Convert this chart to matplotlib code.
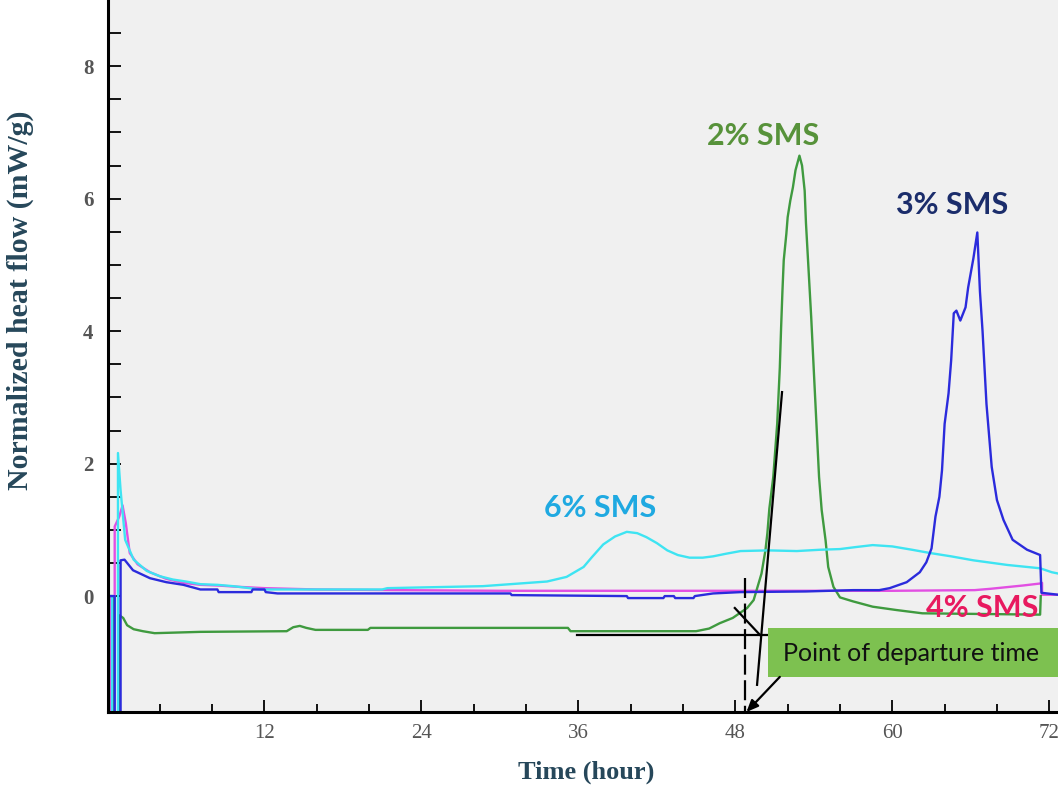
import matplotlib
matplotlib.use("Agg")
import matplotlib.pyplot as plt
from matplotlib.patches import Rectangle

# ---- isothermal calorimetry curves (time in hours, heat flow in mW/g) ----
t_6 = [0, 0.35, 0.35, 0.8, 0.8, 1.0, 1.35, 2.0, 3.0, 4.0, 5.0, 6.0, 7.1, 8.4, 9.6,
       11.7, 21.0, 21.4, 28.7, 31.5, 33.6, 35.1, 36.4, 37.0, 37.9, 38.8, 39.7, 40.5,
       41.2, 42.0, 42.8, 43.6, 44.5, 45.5, 46.3, 47.3, 48.4, 50.5, 52.7, 54.5, 56.0,
       57.2, 58.5, 60.0, 61.5, 62.9, 64.5, 66.2, 68.8, 71.3, 72.2, 72.7]
v_6 = [0, 0, -2, -2, 2.16, 1.6, 0.85, 0.55, 0.38, 0.3, 0.25, 0.22, 0.18, 0.17, 0.15,
       0.1, 0.1, 0.12, 0.15, 0.19, 0.22, 0.29, 0.44, 0.58, 0.78, 0.9, 0.97, 0.95,
       0.89, 0.8, 0.69, 0.62, 0.58, 0.58, 0.6, 0.64, 0.68, 0.69, 0.68, 0.7, 0.71,
       0.74, 0.77, 0.75, 0.7, 0.65, 0.6, 0.54, 0.47, 0.42, 0.36, 0.34]

t_4 = [0, 0.2, 0.2, 0.55, 0.55, 0.9, 1.15, 1.4, 1.7, 2.3, 3.25, 4.5, 5.8, 7.1, 8.4,
       10, 12, 16, 22, 30, 40, 50, 60, 66.3, 67.5, 68.5, 70, 71.3, 71.45, 71.45, 72.7]
v_4 = [0, 0, -2, -2, 1.05, 1.2, 1.37, 1.1, 0.65, 0.48, 0.36, 0.26, 0.2, 0.17, 0.16,
       0.14, 0.12, 0.1, 0.09, 0.08, 0.08, 0.08, 0.08, 0.09, 0.11, 0.13, 0.16, 0.19,
       0.2, 0.02, 0.02]

t_3 = [0, 0.55, 0.55, 1.0, 1.0, 1.3, 1.95, 3.25, 4.5, 5.8, 7.1, 8.4, 8.5, 11.0, 11.1,
       12.0, 12.1, 13.0, 30.8, 30.9, 39.7, 39.8, 42.5, 42.6, 43.3, 43.4, 44.8, 44.9,
       46.3, 48.4, 53.4, 57.0, 59.0, 59.8, 61.1, 62.1, 62.6, 63.0, 63.3, 63.6, 63.8,
       64.0, 64.3, 64.5, 64.7, 64.9, 65.2, 65.6, 65.8, 66.2, 66.5, 66.7, 66.9, 67.2,
       67.6, 68.0, 68.5, 69.2, 70.3, 71.3, 71.4, 72.7]
v_3 = [0, 0, -2, -2, 0.54, 0.55, 0.39, 0.27, 0.21, 0.17, 0.1, 0.1, 0.06, 0.06, 0.1,
       0.1, 0.06, 0.04, 0.04, 0.015, 0.0, -0.03, -0.03, 0.0, 0.0, -0.03, -0.03, 0.0,
       0.04, 0.06, 0.07, 0.09, 0.09, 0.12, 0.21, 0.36, 0.51, 0.72, 1.2, 1.5, 1.9,
       2.6, 3.06, 3.56, 4.27, 4.31, 4.16, 4.36, 4.66, 5.1, 5.49, 4.6, 4.0, 2.9,
       1.95, 1.45, 1.15, 0.85, 0.7, 0.62, 0.05, 0.02]

t_2 = [0, 0.4, 0.4, 0.9, 0.9, 1.2, 1.5, 2.0, 2.7, 3.6, 7.1, 13.7, 14.2, 14.7, 15.2,
       15.9, 19.9, 20.1, 35.2, 35.4, 45.0, 46.0, 46.8, 47.8, 48.9, 49.4, 49.7, 50.0,
       50.3, 50.45, 50.6, 50.9, 51.2, 51.4, 51.5, 51.6, 51.7, 51.9, 52.0, 52.2, 52.4,
       52.6, 52.9, 53.1, 53.3, 53.4, 53.6, 53.8, 54.0, 54.2, 54.4, 54.6, 54.9, 55.1,
       55.5, 56.0, 57.0, 58.5, 60.3, 62.3, 71.3, 71.35]
v_2 = [0, 0, -2, -2, -0.29, -0.33, -0.44, -0.5, -0.53, -0.56, -0.54, -0.53, -0.47,
       -0.45, -0.48, -0.51, -0.51, -0.48, -0.48, -0.53, -0.53, -0.49, -0.41, -0.33,
       -0.18, -0.06, 0.14, 0.34, 0.69, 0.95, 1.32, 1.8, 2.6, 3.45, 4.06, 4.6, 5.07,
       5.47, 5.72, 5.97, 6.17, 6.43, 6.65, 6.5, 6.12, 5.63, 4.92, 4.21, 3.4, 2.6,
       1.8, 1.3, 0.84, 0.44, 0.14, -0.02, -0.08, -0.16, -0.21, -0.26, -0.28, 0.0]

series_labels = ["6% SMS", "4% SMS", "3% SMS", "2% SMS"]
x_ticks = [12, 24, 36, 48, 60, 72]
y_ticks = [0, 2, 4, 6, 8]

# ---- figure ----
W, H = 1058, 788
fig = plt.figure(figsize=(W / 100, H / 100), dpi=100)
ax = fig.add_axes([107.5 / W, 76 / H, (W - 107.5) / W, 712 / H])
ax.set_facecolor("#f0f0f0")

c_cyan = "#3ee4f2"
c_mag = "#e24fe2"
c_blue = "#2b2bdc"
c_green = "#3f9a3f"

ax.plot(t_4, v_4, color=c_mag, lw=1.7, zorder=3)
ax.plot(t_6, v_6, color=c_cyan, lw=1.7, zorder=4)
ax.plot(t_2, v_2, color=c_green, lw=1.7, zorder=3)
ax.plot(t_3, v_3, color=c_blue, lw=1.7, zorder=5)

ax.set_xlim(0, (W - 107.5) / 13.08)
ax.set_ylim(-1.75, 9.0)

# axes styling
for s in ("top", "right"):
    ax.spines[s].set_visible(False)
for s in ("left", "bottom"):
    ax.spines[s].set_linewidth(2.2)
    ax.spines[s].set_color("black")
    ax.spines[s].set_zorder(6)

ax.set_xticks(x_ticks)
ax.set_xticks([v for v in range(4, 73, 4) if v not in x_ticks], minor=True)
ax.set_yticks(y_ticks)
ax.set_yticks([v * 0.5 for v in range(1, 18) if v % 4 != 0], minor=True)
ax.tick_params(axis="both", which="both", direction="in", color="black", width=1.3)
ax.tick_params(axis="x", which="major", length=9, pad=9)
ax.tick_params(axis="x", which="minor", length=6)
ax.tick_params(axis="y", which="major", length=9, pad=10)
ax.tick_params(axis="y", which="minor", length=9)
for lab in ax.get_xticklabels() + ax.get_yticklabels():
    lab.set_fontfamily("Liberation Serif")
    lab.set_fontsize(15)
    lab.set_color("#555555")
for lab in ax.get_yticklabels():
    lab.set_fontweight("bold")

fig.text(20 / W, 1 - 300 / H, "Normalized heat flow (mW/g)", rotation=90,
         ha="center", va="center", fontsize=21.5, fontweight="bold",
         family="Liberation Serif", color="#26475a")
fig.text(586 / W, 1 - 772 / H, "Time (hour)", ha="center", va="center",
         fontsize=19, fontweight="bold", family="Liberation Serif", color="#26475a")

# series labels
lab_kw = dict(ha="center", va="center", fontsize=22, fontweight="bold",
              family="Lato", zorder=7)
ax.text(37.65, 1.33, series_labels[0], color="#1fa9e1", **lab_kw)
ax.text(66.86, -0.18, series_labels[1], color="#e8195f", **lab_kw)
ax.text(64.57, 5.9, series_labels[2], color="#1b2d6b", **lab_kw)
ax.text(50.1, 6.95, series_labels[3], color="#57923a", **lab_kw)

# departure-time construction lines
ax.plot([35.9, 50.5], [-0.59, -0.59], color="black", lw=1.6, zorder=6)
ax.plot([48.75, 48.75], [0.27, -1.75], color="black", lw=1.6,
        linestyle=(0, (9, 2.5)), zorder=6)
ax.plot([47.96, 49.9], [-0.18, -0.59], color="black", lw=1.6, zorder=6)
ax.plot([51.57, 49.66], [3.08, -1.34], color="black", lw=1.6, zorder=6)

# callout box
ax.add_patch(Rectangle((50.5, -1.22), 25, 0.74, facecolor="#7dc150",
                       edgecolor="none", zorder=7))
ax.text(51.65, -0.87, "Point of departure time", ha="left", va="center",
        fontsize=18, family="Lato", color="#111111", zorder=8)
ax.annotate("", xy=(48.85, -1.75), xytext=(51.4, -1.22),
            arrowprops=dict(arrowstyle="-|>,head_length=0.7,head_width=0.3",
                            color="black", lw=1.6, shrinkA=0, shrinkB=0),
            zorder=8, annotation_clip=False)

fig.savefig("out.png", dpi=100, facecolor="white")
